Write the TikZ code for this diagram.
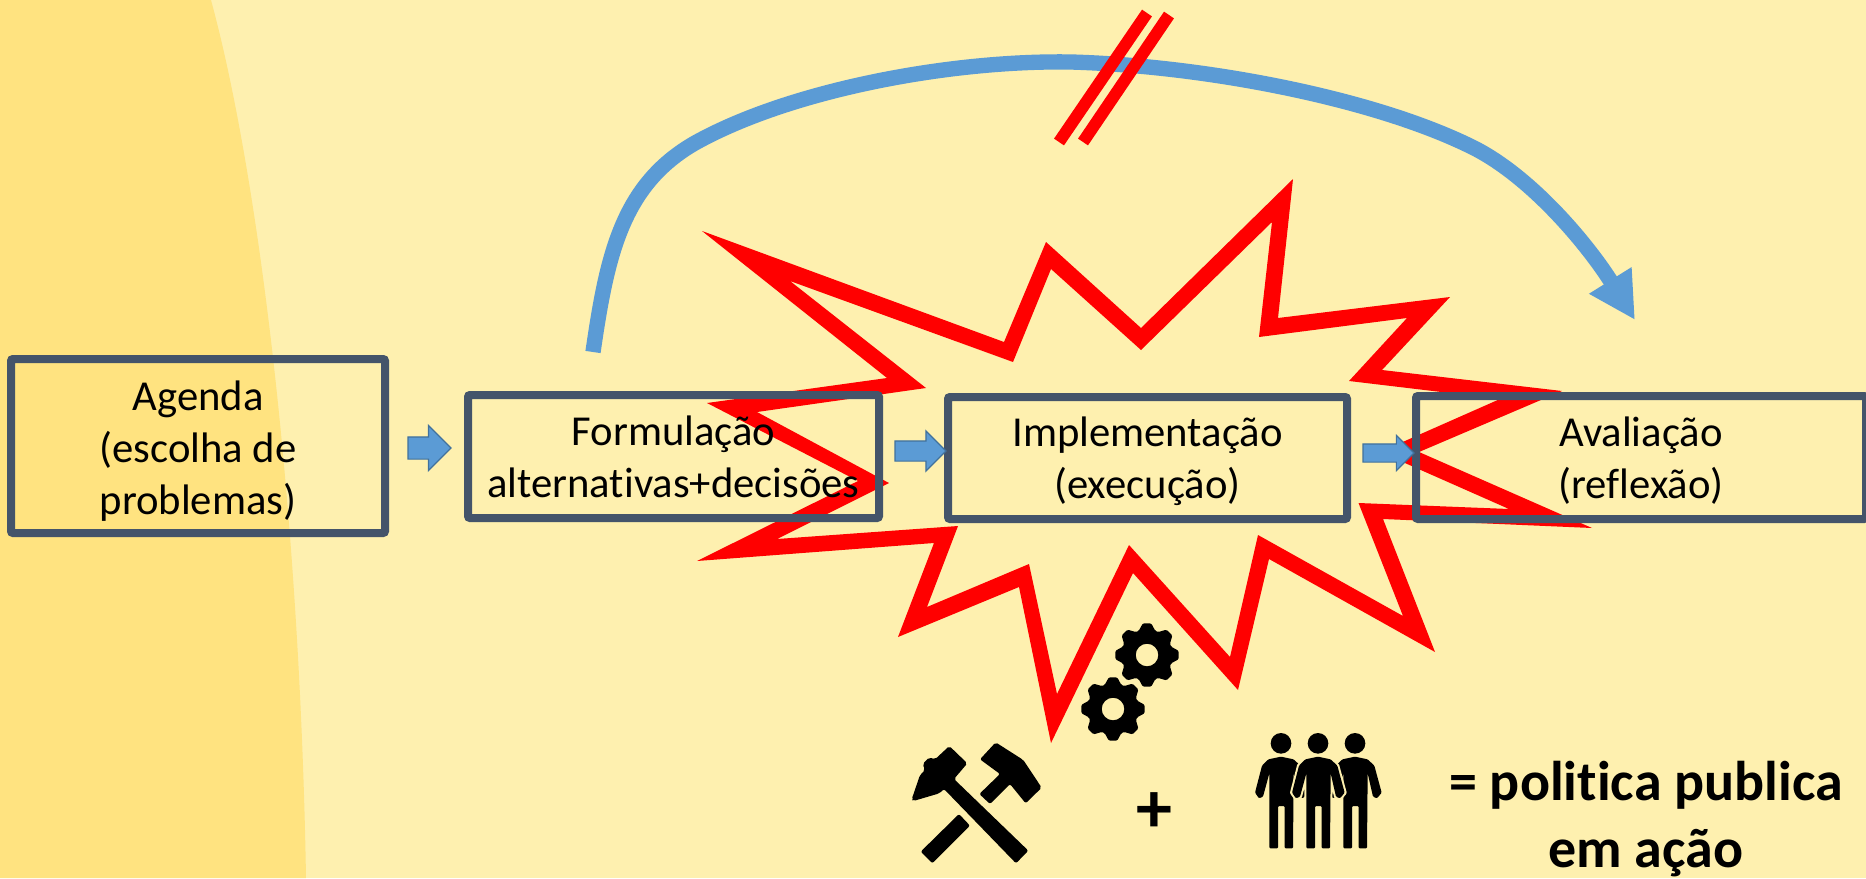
\documentclass[tikz,border=0pt]{standalone}
\usepackage{fontspec}
\setmainfont{Carlito}[Ligatures=NoCommon]
\usetikzlibrary{shapes.arrows,arrows.meta}
\definecolor{bgpale}{HTML}{FEF0AF}
\definecolor{bgband}{HTML}{FFE380}
\definecolor{boxline}{HTML}{44546A}
\definecolor{bluefill}{HTML}{5B9BD5}
\definecolor{blueedge}{HTML}{41719C}
\newcommand{\personbody}{(0,-130) -- (38,-122) -- (58,-103) -- (80,-22) -- (66,-5) -- (54,-10) -- (38,-80)
      -- (36,145) -- (11,145) -- (11,18) -- (-9,18) -- (-9,145) -- (-35,145) -- (-35,-80) -- (-54,-10) -- (-66,-5) -- (-78,-22)
      -- (-57,-103) -- (-38,-122) -- cycle}
\tikzset{
  x=0.75pt,y=-0.75pt,
  procbox/.style={draw=boxline,line width=6pt,rounded corners=1.5pt,align=center,inner sep=0pt,outer sep=0pt,
    font=\fontsize{32}{39}\selectfont},
  fatarrow/.style={single arrow,draw=blueedge,fill=bluefill,line width=0.9pt,inner sep=0pt,outer sep=0pt,single arrow head indent=0pt},
  boldtxt/.style={font=\fontsize{42}{50}\selectfont\bfseries,align=center,inner sep=0pt,outer sep=0pt},
  plustxt/.style={font=\fontsize{54}{54}\selectfont\bfseries,inner sep=0pt,outer sep=0pt},
  redslash/.style={draw=red,line width=9pt},
  bluecurve/.style={draw=bluefill,line width=11.5pt,-{Triangle[length=35pt,width=35pt]}},
  gearicon/.pic={
    \fill[black,even odd rule,rounded corners=1pt]
      (-20:25.5) \foreach \a in {0,45,...,315}{ -- (\a-19:25.5) -- (\a-7.5:32) -- (\a+7.5:32) -- (\a+19:25.5)} -- cycle
      (0,0) circle (11.3);
  },
  personicon/.pic={
    \fill[black] (0,-170) circle (31);
    \fill[black,rounded corners=0.8pt] \personbody;
  },
  personhalo/.pic={
    \draw[bgpale,line width=3pt,line join=round] \personbody;
  }
}
\begin{document}
\begin{tikzpicture}
\useasboundingbox (0,0) rectangle (1866,878);
\clip (0,0) rectangle (1866,878);
\fill[bgpale] (0,0) rectangle (1866,878);
\fill[bgband] (0,0) -- (211,0) .. controls (260,180) and (300,520) .. (306,878) -- (0,878) -- cycle;
% explosion
\fill[red,even odd rule]
  (702,231) -- (1004,342) -- (1046,242) -- (1141,328) -- (1293,179) -- (1278,318) -- (1450,297) -- (1382,370)
  -- (1562,391) -- (1419,452) -- (1592,528) -- (1383,519) -- (1435,652) -- (1269,559) -- (1238,690) -- (1133,573)
  -- (1051,743) -- (1019,587) -- (898,637) -- (934,543) -- (697,561) -- (858,481) -- (707,403) -- (887,378) -- cycle
  (790,281) -- (1013,362) -- (1051,269) -- (1141,350) -- (1272,222) -- (1259,337) -- (1407,318) -- (1349,381)
  -- (1500,399) -- (1380,452) -- (1509,509) -- (1358.5,503) -- (1403,616) -- (1258,535) -- (1230,657) -- (1129,545)
  -- (1057,694) -- (1029,564) -- (927,607) -- (958,526) -- (777,539) -- (889,483) -- (757,412) -- (926,388) -- cycle;
% boxes
\node[procbox,minimum width=280.5pt,minimum height=130.5pt] (agenda) at (198,446) {\rule{0pt}{29.5pt}Agenda\\(escolha de\\problemas)};
\node[procbox,minimum width=308.25pt,minimum height=92.25pt] (formula) at (673.5,456.5) {Formulação\\alternativas+decisões};
\node[procbox,minimum width=299.25pt,minimum height=91.5pt] (impl) at (1147.5,458) {\rule{0pt}{27.5pt}Implementação\\(execução)};
\node[procbox,minimum width=337.5pt,minimum height=92.25pt] (aval) at (1641,457.5) {\rule{0pt}{27.5pt}Avaliação\\(reflexão)};
% long curved connector
\coordinate (curvestart) at (593,352);
\coordinate (curveend) at (1635,320);
\draw[bluecurve] (curvestart) .. controls (607,255) and (622,185) .. (695,143)
  .. controls (790,90) and (950,60) .. (1071,62)
  .. controls (1210,66) and (1380,100) .. (1476,149)
  .. controls (1535,180) and (1590,248) .. (curveend);
\coordinate (s1a) at (1147,13); \coordinate (s1b) at (1059,142);
\coordinate (s2a) at (1169,15); \coordinate (s2b) at (1083,142);
\draw[redslash] (s1a) -- (s1b);
\draw[redslash] (s2a) -- (s2b);
% block arrows
\node[fatarrow,minimum height=32.25pt,minimum width=33pt,single arrow head extend=8.6pt,anchor=tip] (arrowa) at (451,448) {\rule{0pt}{15.75pt}};
\node[fatarrow,minimum height=38.25pt,minimum width=29.25pt,single arrow head extend=7.5pt,anchor=tip] (arrowb) at (946,451) {\rule{0pt}{14.25pt}};
\node[fatarrow,minimum height=38.25pt,minimum width=25.5pt,single arrow head extend=6.4pt,anchor=tip] (arrowc) at (1414,453) {\rule{0pt}{12.75pt}};
% icons
\pic at (1147,655) {gearicon};
\pic at (1113,709) {gearicon};
\begin{scope}[shift={(880,600)},scale=1/3]
  \fill[black,rounded corners=1.5pt] (95,598) -- (120,525) -- (135,510) -- (128,492) -- (148,472) -- (165,478) -- (208,438) -- (262,490)
    -- (222,537) -- (445,752) -- (408,790) -- (192,567) -- (178,580) -- (100,603) -- cycle;
  \fill[black,rounded corners=1.5pt] (347,427) -- (430,480) -- (485,563) -- (437,610) -- (390,552) -- (330,612) -- (298,582) -- (360,522) -- (300,478) -- cycle;
  \fill[black,rounded corners=1.5pt] (237,642) -- (270,677) -- (157,790) -- (122,755) -- cycle;
\end{scope}
\pic[scale=1/3] at (1281,800) {personicon};
\pic[scale=1/3] at (1355,800) {personicon};
\pic[scale=1/3] at (1318,800) {personhalo};
\pic[scale=1/3] at (1318,800) {personicon};
\node[plustxt] (plus) at (1154,813) {+};
\node[boldtxt] (result) at (1646,819) {= politica publica\\em ação};
\end{tikzpicture}
\end{document}
